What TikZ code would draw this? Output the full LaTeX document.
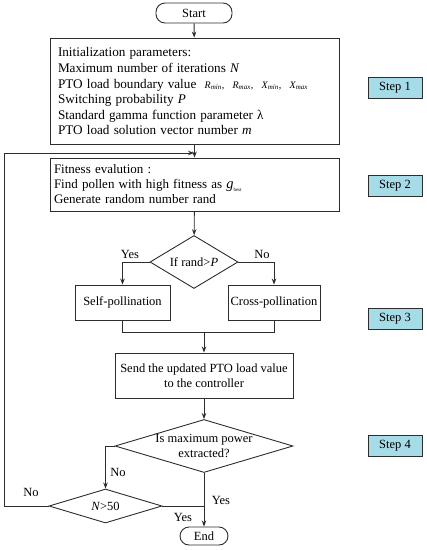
\documentclass[tikz,border=0pt]{standalone}
\usepackage{fontspec}
\setmainfont{Liberation Serif}
\usetikzlibrary{arrows.meta,shapes.geometric}
\definecolor{stepfill}{RGB}{166,220,232}
\definecolor{ln}{RGB}{45,45,45}
\tikzset{
  base/.style={draw=ln, line width=0.9pt, font=\fontsize{12.5}{15}\selectfont, inner sep=0pt},
  proc/.style={base, rectangle},
  term/.style={base, rectangle, rounded corners=9pt},
  dec/.style={base, diamond, align=center},
  stepbox/.style={base, rectangle, fill=stepfill, minimum width=54pt, minimum height=21pt},
  conn/.style={draw=ln, line width=0.9pt},
  arr/.style={conn, -{Stealth[length=6pt,width=4.5pt]}},
  lbl/.style={font=\fontsize{12.5}{15}\selectfont, inner sep=0pt},
}
\begin{document}
\begin{tikzpicture}[x=1pt,y=-1pt]
\useasboundingbox (0,0) rectangle (427,550);
% nodes
\node[term, minimum width=76pt, minimum height=20pt] (start) at (194,13) {Start};
\node[proc, minimum width=289pt, minimum height=106pt, text width=273pt, align=left] (init) at (194.5,91)
 {\fontsize{13.2}{15.8}\selectfont
  Initialization parameters:\\
  Maximum number of iterations \textit{N}\\
  PTO load boundary value\ \ {\fontsize{10}{12}\selectfont\textit{R\textsubscript{min}}, \ \textit{R\textsubscript{max}}, \ \textit{X\textsubscript{min}}, \ \textit{X\textsubscript{max}}}\\
  Switching probability \textit{P}\\
  Standard gamma function parameter λ\\
  PTO load solution vector number \textit{m}};
\node[proc, minimum width=289pt, minimum height=53pt, text width=281pt, align=left] (fit) at (194.5,184.5)
 {\fontsize{13}{15}\selectfont Fitness evalution :\\
  Find pollen with high fitness as \textit{\Large g}\raisebox{-0.4ex}{\tiny best}\\
  Generate random number rand};
\node[dec, minimum width=88pt, minimum height=53pt, aspect=1.66] (d1) at (194,262) {If rand>\textit{P}};
\node[proc, minimum width=95pt, minimum height=35pt] (self) at (122.5,302.5) {Self-pollination};
\node[proc, minimum width=92pt, minimum height=35pt] (cross) at (274,302.5) {Cross-pollination};
\node[proc, minimum width=178pt, minimum height=45pt, align=center] (send) at (204,375.5)
 {Send the updated PTO load value\\to the controller};
\node[dec, minimum width=178pt, minimum height=53pt, aspect=3.36] (d2) at (204,446) {Is maximum power\\extracted?};
\node[dec, minimum width=113pt, minimum height=34pt, aspect=3.3] (d3) at (105.5,506) {\textit{N}>50};
\node[term, minimum width=48pt, minimum height=18pt] (end) at (204,536) {End};
% step boxes
\node[stepbox] (s1) at (395,88) {Step 1};
\node[stepbox] (s2) at (395,186) {Step 2};
\node[stepbox] (s3) at (395,319) {Step 3};
\node[stepbox] (s4) at (395,446) {Step 4};
% coordinates
\coordinate (join) at (194,153);
\coordinate (fb) at (4,153);
\coordinate (mL) at (122.5,332);
\coordinate (mR) at (274,332);
\coordinate (mC) at (204,332);
% connectors
\draw[arr] (start) -- (init);
\draw[arr] (init) -- (fit);
\draw[arr] (fit) -- (d1);
\draw[arr] (d1.west) -| (self.north);
\draw[arr] (d1.east) -| (cross.north);
\draw[conn] (self.south) -- (mL) -- (mR) -- (cross.south);
\draw[arr] (mC) -- (send.north);
\draw[arr] (send) -- (d2);
\draw[arr] (d2.west) -| (d3.north);
\draw[arr] (d2.south) -- (end.north);
\draw[conn] (d3.east) -- (d3.east -| end.north);
\draw[arr] (d3.west) -| (fb) -- (join);
% labels
\node[lbl] (ly1) at (130,254) {Yes};
\node[lbl] (ln1) at (262,254) {No};
\node[lbl] (ln2) at (118,472) {No};
\node[lbl] (ln3) at (31,492) {No};
\node[lbl] (ly2) at (221,500) {Yes};
\node[lbl] (ly3) at (183,517) {Yes};
\end{tikzpicture}
\end{document}
